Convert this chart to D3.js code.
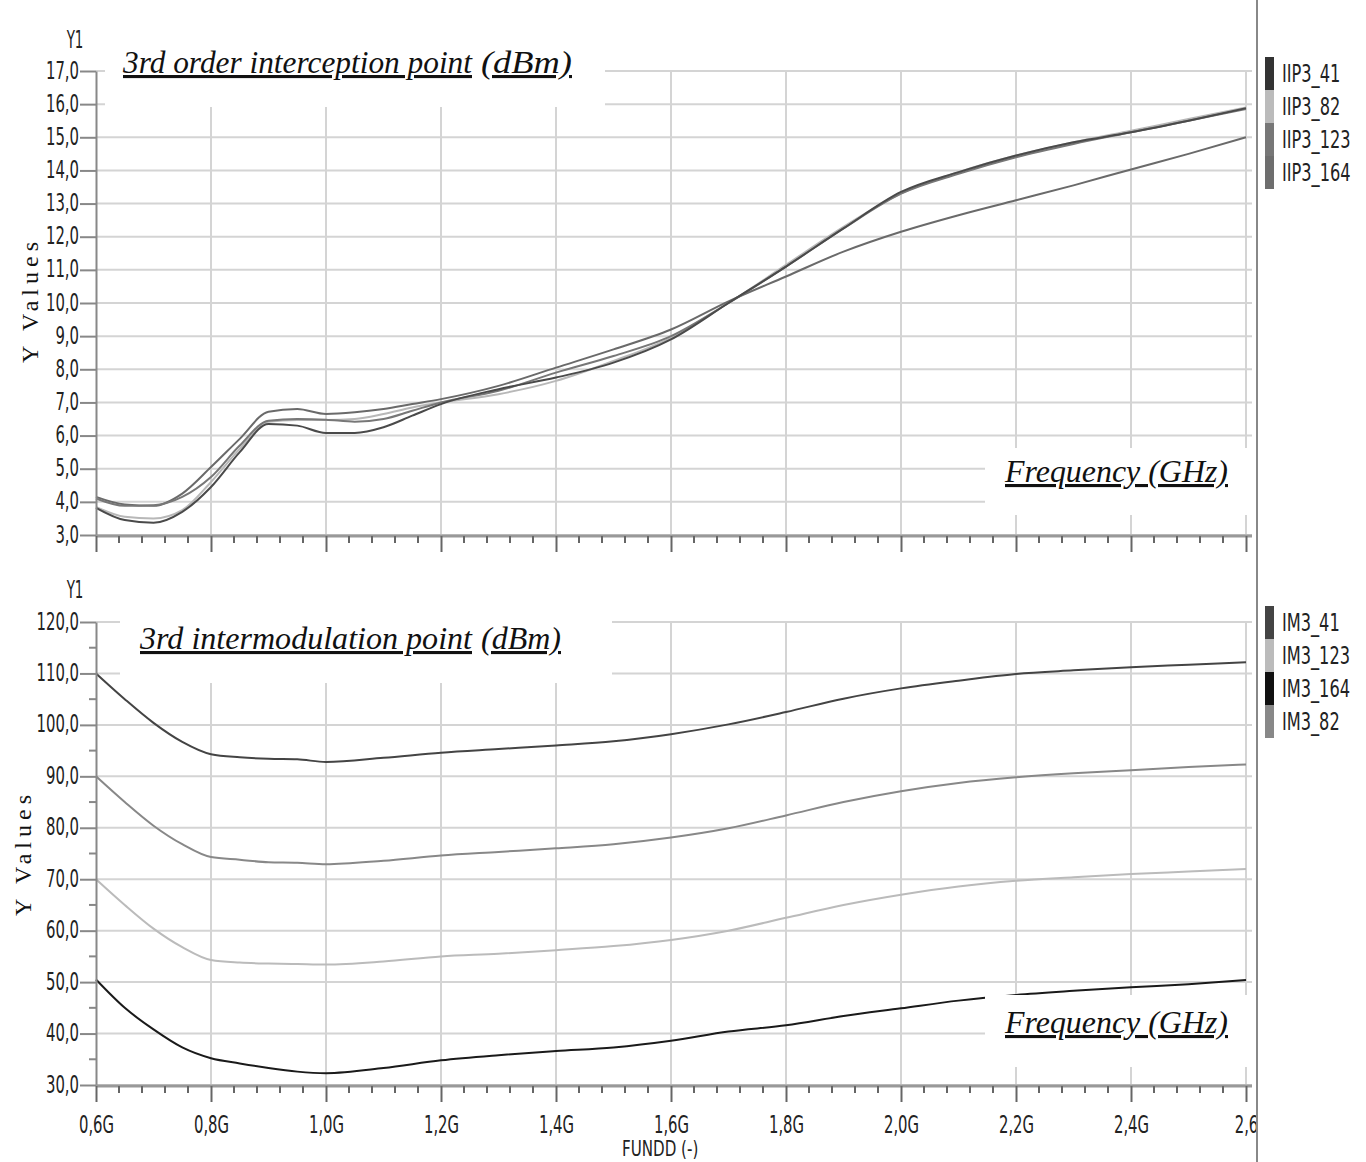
<!DOCTYPE html>
<html>
<head>
<meta charset="utf-8">
<script src="https://cdn.jsdelivr.net/npm/d3@7"></script>
<style>
  body { margin: 0; background: #fff; }
  .px { font-family: "Liberation Sans Narrow", "DejaVu Sans Condensed", sans-serif; fill: #222; }
  .serif { font-family: "Liberation Serif", "Times New Roman", serif; fill: #111; }
</style>
</head>
<body>
<svg id="chart" width="1366" height="1162"></svg>
<script>
// top panel: 3rd order interception point (dBm)
const freqTop = [0.6, 0.65, 0.7, 0.75, 0.8, 0.85, 0.9, 0.95, 1.0, 1.05, 1.1, 1.15, 1.2,
  1.3, 1.4, 1.5, 1.6, 1.7, 1.8, 1.9, 2.0, 2.1, 2.2, 2.3, 2.4, 2.5, 2.6];
const iip3_41 = [3.82, 3.45, 3.37, 3.7, 4.45, 5.5, 6.35, 6.3, 6.08, 6.08, 6.25, 6.6, 6.95,
  7.4, 7.75, 8.2, 8.9, 10.0, 11.1, 12.25, 13.35, 13.95, 14.45, 14.85, 15.15, 15.5, 15.88];
const iip3_82 = [3.85, 3.55, 3.5, 3.75, 4.6, 5.6, 6.42, 6.47, 6.47, 6.5, 6.65, 6.85, 7.0,
  7.25, 7.65, 8.25, 8.95, 10.0, 11.15, 12.3, 13.3, 13.95, 14.45, 14.85, 15.2, 15.55, 15.9];
const iip3_123 = [4.1, 3.88, 3.9, 4.15, 4.75, 5.7, 6.45, 6.5, 6.48, 6.42, 6.5, 6.75, 7.0,
  7.35, 7.9, 8.4, 9.0, 10.0, 11.1, 12.25, 13.3, 13.9, 14.4, 14.8, 15.15, 15.5, 15.85];
const iip3_164 = [4.15, 3.92, 3.88, 4.25, 5.05, 5.9, 6.72, 6.8, 6.65, 6.7, 6.8, 6.95, 7.1,
  7.5, 8.05, 8.6, 9.2, 10.05, 10.8, 11.55, 12.15, 12.65, 13.1, 13.55, 14.03, 14.5, 15.0];

// bottom panel: 3rd intermodulation point (dBm)
const freqBottom = [0.6, 0.65, 0.7, 0.75, 0.8, 0.85, 0.9, 0.95, 1.0, 1.1, 1.2, 1.3, 1.4,
  1.5, 1.6, 1.7, 1.8, 1.9, 2.0, 2.1, 2.2, 2.3, 2.4, 2.5, 2.6];
const im3_41 = [110, 105, 100.4, 96.7, 94.3, 93.7, 93.4, 93.3, 92.8, 93.6, 94.6, 95.3, 96.0,
  96.8, 98.2, 100.1, 102.5, 105.1, 107.1, 108.6, 109.9, 110.6, 111.2, 111.7, 112.2];
const im3_82 = [90, 85, 80.4, 76.8, 74.3, 73.8, 73.3, 73.2, 72.9, 73.6, 74.6, 75.3, 76.0,
  76.8, 78.1, 79.9, 82.4, 85.0, 87.1, 88.7, 89.8, 90.6, 91.2, 91.8, 92.3];
const im3_123 = [70, 65, 60.4, 56.8, 54.3, 53.8, 53.6, 53.5, 53.4, 54.0, 55.0, 55.5, 56.2,
  57.0, 58.2, 60.0, 62.5, 65.0, 67.0, 68.6, 69.7, 70.4, 71.0, 71.5, 72.0];
const im3_164 = [50.5, 45.0, 40.8, 37.3, 35.2, 34.2, 33.3, 32.6, 32.3, 33.3, 34.8, 35.8, 36.6,
  37.3, 38.6, 40.4, 41.6, 43.4, 44.9, 46.4, 47.5, 48.3, 49.0, 49.6, 50.4];

const xTickValues = [0.6, 0.8, 1.0, 1.2, 1.4, 1.6, 1.8, 2.0, 2.2, 2.4, 2.6];
const xTickLabels = ["0,6G", "0,8G", "1,0G", "1,2G", "1,4G", "1,6G", "1,8G", "2,0G", "2,2G", "2,4G", "2,6"];
const yTicksTop = [3, 4, 5, 6, 7, 8, 9, 10, 11, 12, 13, 14, 15, 16, 17];
const yTicksBottom = [30, 40, 50, 60, 70, 80, 90, 100, 110, 120];

const svg = d3.select("#chart");
const x = d3.scaleLinear().domain([0.6, 2.6]).range([96, 1246]);
const gridRight = 1252;
const commaFmt = (d) => d3.format(".1f")(d).replace(".", ",");
const narrow = 0.66; // horizontal squeeze for the narrow instrument font

// squeeze a text horizontally around its anchor point
function squeeze(sel, k) {
  sel.each(function () {
    const t = d3.select(this);
    const tx = +t.attr("x") || 0;
    t.attr("x", tx / k).attr("transform", `scale(${k},1)`);
  });
}

function drawPanel(cfg) {
  const y = cfg.y;
  const yBase = y.range()[0];
  const yTop = y.range()[1];
  const g = svg.append("g");

  g.selectAll("line.hgrid").data(cfg.yTicks).join("line")
    .attr("class", "hgrid")
    .attr("x1", x(0.6)).attr("x2", gridRight)
    .attr("y1", (d) => y(d)).attr("y2", (d) => y(d))
    .attr("stroke", "#d4d4d4").attr("stroke-width", 2);

  g.selectAll("line.vgrid").data(xTickValues.slice(1)).join("line")
    .attr("class", "vgrid")
    .attr("x1", (d) => x(d)).attr("x2", (d) => x(d))
    .attr("y1", yTop).attr("y2", yBase)
    .attr("stroke", "#d4d4d4").attr("stroke-width", 2);

  const line = d3.line()
    .x((d) => x(d[0]))
    .y((d) => y(d[1]))
    .curve(d3.curveMonotoneX);

  cfg.series.forEach((s) => {
    g.append("path")
      .datum(cfg.freq.map((f, i) => [f, s.values[i]]))
      .attr("fill", "none")
      .attr("stroke", s.color)
      .attr("stroke-width", 2)
      .attr("d", line);
  });

  // white label boxes sit over grid and curves
  cfg.boxes.forEach((b) => {
    g.append("rect").attr("x", b[0]).attr("y", b[1]).attr("width", b[2]).attr("height", b[3]).attr("fill", "#fff");
  });

  // y axis
  const yAxis = g.append("g")
    .attr("transform", `translate(${x(0.6)},0)`)
    .call(d3.axisLeft(y).tickValues(cfg.yTicks).tickSize(16).tickSizeOuter(0).tickPadding(1).tickFormat(commaFmt));
  yAxis.select(".domain").attr("stroke", "#888").attr("stroke-width", 2);
  yAxis.selectAll(".tick line").attr("stroke", "#888").attr("stroke-width", 2);
  yAxis.selectAll(".tick text").attr("class", "px").attr("font-size", 25).attr("dy", "0.28em")
    .call(squeeze, narrow);

  if (cfg.yMinor) {
    g.selectAll("line.yminor").data(cfg.yMinor).join("line")
      .attr("x1", x(0.6) - 7).attr("x2", x(0.6))
      .attr("y1", (d) => y(d)).attr("y2", (d) => y(d))
      .attr("stroke", "#888").attr("stroke-width", 2);
  }

  // x axis
  g.append("line")
    .attr("x1", x(0.6)).attr("x2", gridRight)
    .attr("y1", yBase + 1).attr("y2", yBase + 1)
    .attr("stroke", "#999").attr("stroke-width", 3);

  const xAxis = g.append("g")
    .attr("transform", `translate(0,${yBase + 1})`)
    .call(d3.axisBottom(x).tickValues(xTickValues).tickSize(16).tickSizeOuter(0).tickPadding(13)
      .tickFormat((d, i) => (cfg.xLabels ? xTickLabels[i] : "")));
  xAxis.select(".domain").remove();
  xAxis.selectAll(".tick line").attr("stroke", "#666").attr("stroke-width", 2);
  xAxis.selectAll(".tick text").attr("class", "px").attr("font-size", 25).call(squeeze, narrow);

  const minor = d3.range(0, 51).map((i) => 0.6 + i * 0.04).filter((_, i) => i % 5 !== 0);
  g.selectAll("line.xminor").data(minor).join("line")
    .attr("x1", (d) => x(d)).attr("x2", (d) => x(d))
    .attr("y1", yBase + 1).attr("y2", yBase + 8)
    .attr("stroke", "#666").attr("stroke-width", 2);

  g.append("text").attr("class", "px").attr("font-size", 24)
    .attr("x", 75).attr("y", cfg.y1Label).attr("text-anchor", "middle").text("Y1")
    .call(squeeze, 0.62);

  g.append("text").attr("class", "serif").attr("font-size", 24)
    .attr("letter-spacing", 5)
    .attr("text-anchor", "middle")
    .attr("transform", `translate(${cfg.yValuesX},${cfg.yValuesY}) rotate(-90)`)
    .text("Y Values");

  cfg.titles.forEach((t) => {
    g.append("text").attr("class", "serif")
      .attr("font-size", 31).attr("font-style", "italic")
      .attr("text-decoration", "underline")
      .attr("x", t.x).attr("y", t.y)
      .attr("textLength", t.w).attr("lengthAdjust", "spacingAndGlyphs")
      .text(t.text);
  });

  // legend
  const leg = g.append("g");
  cfg.legend.forEach((s, i) => {
    leg.append("rect")
      .attr("x", 1265).attr("y", cfg.legendTop + i * 33)
      .attr("width", 9).attr("height", 33)
      .attr("fill", s.color);
    leg.append("text").attr("class", "px").attr("font-size", 24)
      .attr("x", 1282).attr("y", cfg.legendTop + i * 33 + 25)
      .text(s.name)
      .call(squeeze, 0.75);
  });
}

drawPanel({
  y: d3.scaleLinear().domain([3, 17]).range([535, 71]),
  yTicks: yTicksTop,
  freq: freqTop,
  series: [
    { name: "IIP3_82", values: iip3_82, color: "#b8b8b8" },
    { name: "IIP3_164", values: iip3_164, color: "#6a6a6a" },
    { name: "IIP3_123", values: iip3_123, color: "#777" },
    { name: "IIP3_41", values: iip3_41, color: "#4a4a4a" }
  ],
  legend: [
    { name: "IIP3_41", color: "#333" },
    { name: "IIP3_82", color: "#bbb" },
    { name: "IIP3_123", color: "#777" },
    { name: "IIP3_164", color: "#6e6e6e" }
  ],
  legendTop: 57,
  boxes: [[105, 48, 500, 59], [985, 448, 270, 67]],
  titles: [
    { text: "3rd order interception point", x: 123, y: 73, w: 349 },
    { text: "(dBm)", x: 481, y: 73, w: 91 },
    { text: "Frequency (GHz)", x: 1005, y: 482, w: 223 }
  ],
  xLabels: false,
  y1Label: 48,
  yValuesX: 38,
  yValuesY: 300
});

drawPanel({
  y: d3.scaleLinear().domain([30, 120]).range([1085, 622]),
  yTicks: yTicksBottom,
  yMinor: [35, 45, 55, 65, 75, 85, 95, 105, 115],
  freq: freqBottom,
  series: [
    { name: "IM3_123", values: im3_123, color: "#bbb" },
    { name: "IM3_82", values: im3_82, color: "#888" },
    { name: "IM3_41", values: im3_41, color: "#444" },
    { name: "IM3_164", values: im3_164, color: "#1a1a1a" }
  ],
  legend: [
    { name: "IM3_41", color: "#444" },
    { name: "IM3_123", color: "#bbb" },
    { name: "IM3_164", color: "#111" },
    { name: "IM3_82", color: "#888" }
  ],
  legendTop: 606,
  boxes: [[120, 612, 492, 71], [985, 995, 270, 72]],
  titles: [
    { text: "3rd intermodulation point", x: 140, y: 649, w: 332 },
    { text: "(dBm)", x: 481, y: 649, w: 80 },
    { text: "Frequency (GHz)", x: 1005, y: 1033, w: 223 }
  ],
  xLabels: true,
  y1Label: 598,
  yValuesX: 31,
  yValuesY: 853
});

svg.append("text").attr("class", "px").attr("font-size", 21)
  .attr("x", 622).attr("y", 1156).text("FUNDD (-)")
  .call(squeeze, 0.8);

// separator between plot area and legend
svg.append("line")
  .attr("x1", 1257).attr("x2", 1257).attr("y1", 0).attr("y2", 1162)
  .attr("stroke", "#888").attr("stroke-width", 2);
</script>
</body>
</html>
